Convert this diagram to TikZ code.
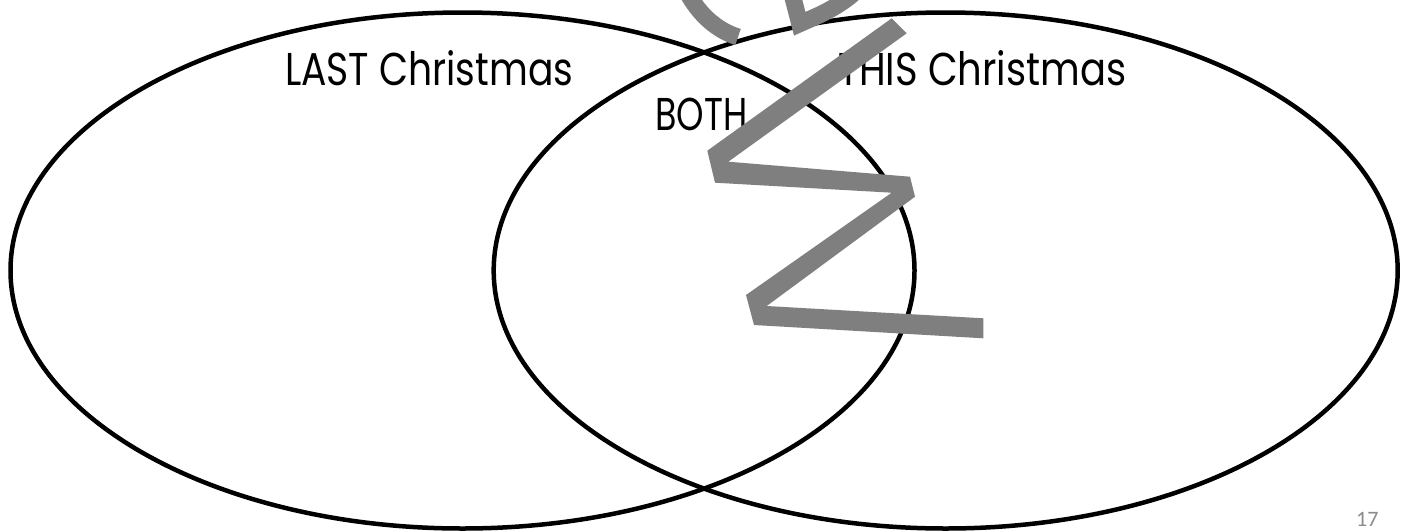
\documentclass[tikz,border=0pt]{standalone}
\usepackage{fontspec}
\usepackage{graphicx}
\setmainfont{Poppins}
\newfontfamily\pagefont{Carlito}
\usetikzlibrary{shapes.geometric}
\definecolor{scribble}{RGB}{127,127,127}
\definecolor{pagegray}{RGB}{140,140,140}
\tikzset{
  vennset/.style={ellipse, draw=black, line width=4.5pt, minimum width=904pt, minimum height=516pt, inner sep=0pt},
  vlabel/.style={anchor=base west, inner sep=0pt, font=\fontsize{46}{46}\selectfont},
  scribblestroke/.style={draw=scribble, line width=17pt, line cap=butt, line join=miter},
}
\begin{document}
\begin{tikzpicture}[x=1pt,y=-1pt]
\useasboundingbox (0,0) rectangle (1408,531);
\fill[white] (0,0) rectangle (1408,531);
\clip (0,0) rectangle (1408,531);
\node[vennset] (last) at (462.5,270.5) {};
\node[vennset] (this) at (945.7,270.5) {};
\node[vlabel] (lastlbl) at (285,85.5) {\resizebox{288pt}{\height}{LAST Christmas}};
\node[vlabel] (thislbl) at (838,85.5) {\resizebox{288pt}{\height}{THIS Christmas}};
\node[vlabel] (bothlbl) at (655,130) {\resizebox{92pt}{\height}{BOTH}};
% scribble
\path[scribblestroke] (686,-10) .. controls (695,8) and (712,29) .. (738,37);
\path[scribblestroke] (792,-6) -- (799.7,23.7) .. controls (812,18) and (835,10) .. (855,-8);
\fill[scribble] (891.7,18.3) -- (906.7,33.3) -- (728.3,161.7) -- (910,176.7) -- (915,196.7)
  -- (766.7,306) -- (983.3,318.3) -- (983.3,338.3) -- (754,325) -- (746,295)
  -- (891.7,192.7) -- (715,182.7) -- (707.3,150.7) -- cycle;
\node[anchor=base west, inner sep=0pt, font=\pagefont\fontsize{22}{22}\selectfont, text=pagegray] (pagenum) at (1356,526) {17};
\end{tikzpicture}
\end{document}
